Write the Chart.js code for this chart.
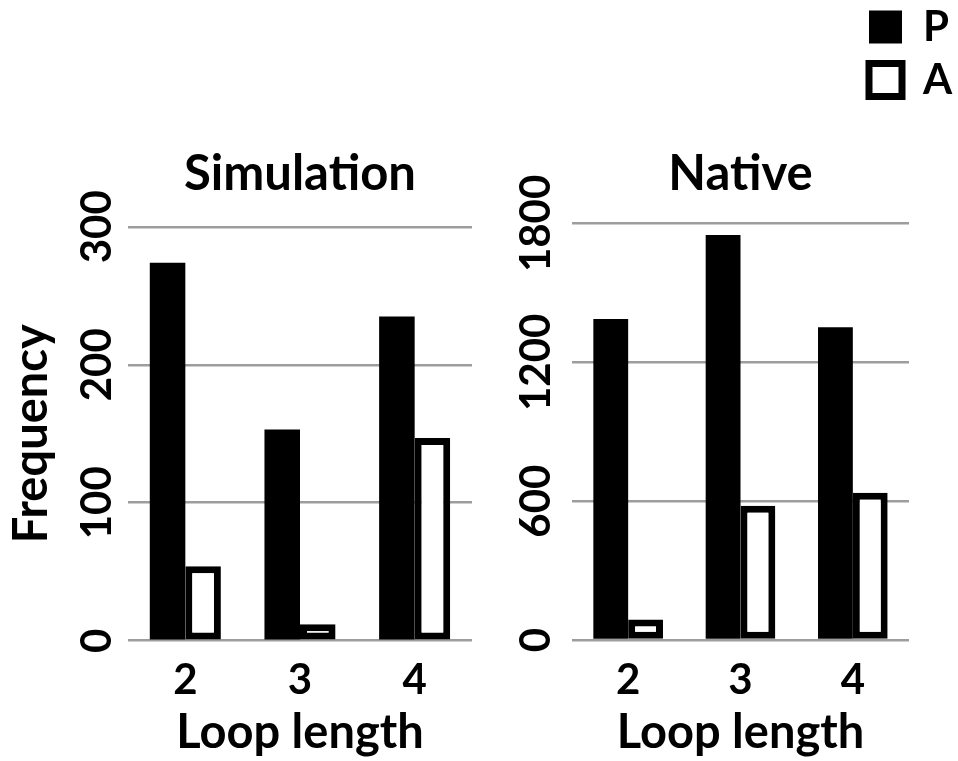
<!DOCTYPE html>
<html>
<head>
<meta charset="utf-8">
<script src="https://cdn.jsdelivr.net/npm/chart.js@4.4.1/dist/chart.umd.min.js"></script>
<style>
  html, body { margin: 0; padding: 0; background: #fff; }
  body { width: 958px; height: 761px; position: relative; overflow: hidden; }
  canvas { position: absolute; }
</style>
</head>
<body>
<canvas id="sim" width="490" height="761" style="left:0;top:0"></canvas>
<canvas id="nat" width="468" height="761" style="left:490px;top:0"></canvas>
<canvas id="leg" width="118" height="270" style="left:840px;top:-5px"></canvas>
<script>
// ---- data ----
const categories = ['2', '3', '4'];
const seriesNames = ['P', 'A'];
const simulationP = [274, 153, 235];
const simulationA = [54, 12, 147];
const nativeP = [1387, 1750, 1351];
const nativeA = [89, 580, 636];
const simulationTicks = [0, 100, 200, 300];
const nativeTicks = [0, 600, 1200, 1800];

Chart.defaults.font.family = 'Lato, "Open Sans", sans-serif';
Chart.defaults.font.weight = 'bold';
Chart.defaults.color = '#000';
Chart.defaults.animation = false;

function datasets(p, a) {
  return [
    { label: seriesNames[0], data: p, backgroundColor: '#000', borderColor: '#000', borderWidth: 0,
      barPercentage: 1, categoryPercentage: 0.62 },
    { label: seriesNames[1], data: a, backgroundColor: '#fff', borderColor: '#000', borderWidth: 7,
      borderSkipped: false, barPercentage: 1, categoryPercentage: 0.62 }
  ];
}

function makeChart(id, title, p, a, ticks, opts) {
  return new Chart(document.getElementById(id), {
    type: 'bar',
    data: { labels: categories, datasets: datasets(p, a) },
    options: {
      responsive: false,
      devicePixelRatio: 1,
      layout: { padding: { left: 0, right: opts.padRight, top: 0, bottom: 0 } },
      plugins: {
        legend: { display: false },
        tooltip: { enabled: false },
        title: {
          display: true, text: title, fullSize: false,
          font: { size: 49, weight: 'bold' }, color: '#000',
          padding: { top: 145, bottom: opts.titleBottom }
        }
      },
      scales: {
        x: {
          grid: { display: false },
          border: { display: false },
          ticks: { font: { size: 42, weight: 'bold' }, padding: 7, color: '#000' },
          title: { display: true, text: 'Loop length', font: { size: 47, weight: 'bold' },
                   color: '#000', padding: { top: 0, bottom: 0 } },
          afterFit: s => { s.height = opts.xHeight; }
        },
        y: {
          min: ticks[0], max: ticks[ticks.length - 1],
          afterBuildTicks: s => { s.ticks = ticks.map(v => ({ value: v })); },
          grid: { color: '#9d9d9d', lineWidth: 2.5, drawTicks: false },
          border: { display: false },
          ticks: { font: { size: 42, weight: 'bold' }, color: '#000',
                   minRotation: 90, maxRotation: 90, crossAlign: 'center',
                   padding: opts.tickPad, autoSkip: false,
                   callback: v => String(v) },
          title: { display: opts.yTitle, text: 'Frequency', font: { size: 47, weight: 'bold' },
                   color: '#000', padding: { top: 4, bottom: 0 } },
          afterFit: s => { s.width = opts.yWidth; }
        }
      }
    }
  });
}

makeChart('sim', 'Simulation', simulationP, simulationA, simulationTicks,
  { padRight: 18, titleBottom: 23, xHeight: 120.3, yWidth: 128, tickPad: -5.5, yTitle: true });
makeChart('nat', 'Native', nativeP, nativeA, nativeTicks,
  { padRight: 49, titleBottom: 19.6, xHeight: 121, yWidth: 82, tickPad: -13, yTitle: false });

// legend
new Chart(document.getElementById('leg'), {
  type: 'bar',
  data: { labels: [], datasets: datasets([], []) },
  options: {
    responsive: false,
    devicePixelRatio: 1,
    layout: { padding: { left: 18, right: 0, top: 0, bottom: 0 } },
    scales: { x: { display: false }, y: { display: false } },
    plugins: {
      tooltip: { enabled: false },
      legend: {
        position: 'top', align: 'start',
        labels: { boxWidth: 33, boxHeight: 33, padding: 11, color: '#000',
                  font: { size: 42, weight: 'bold' } }
      }
    }
  }
});
</script>
</body>
</html>
